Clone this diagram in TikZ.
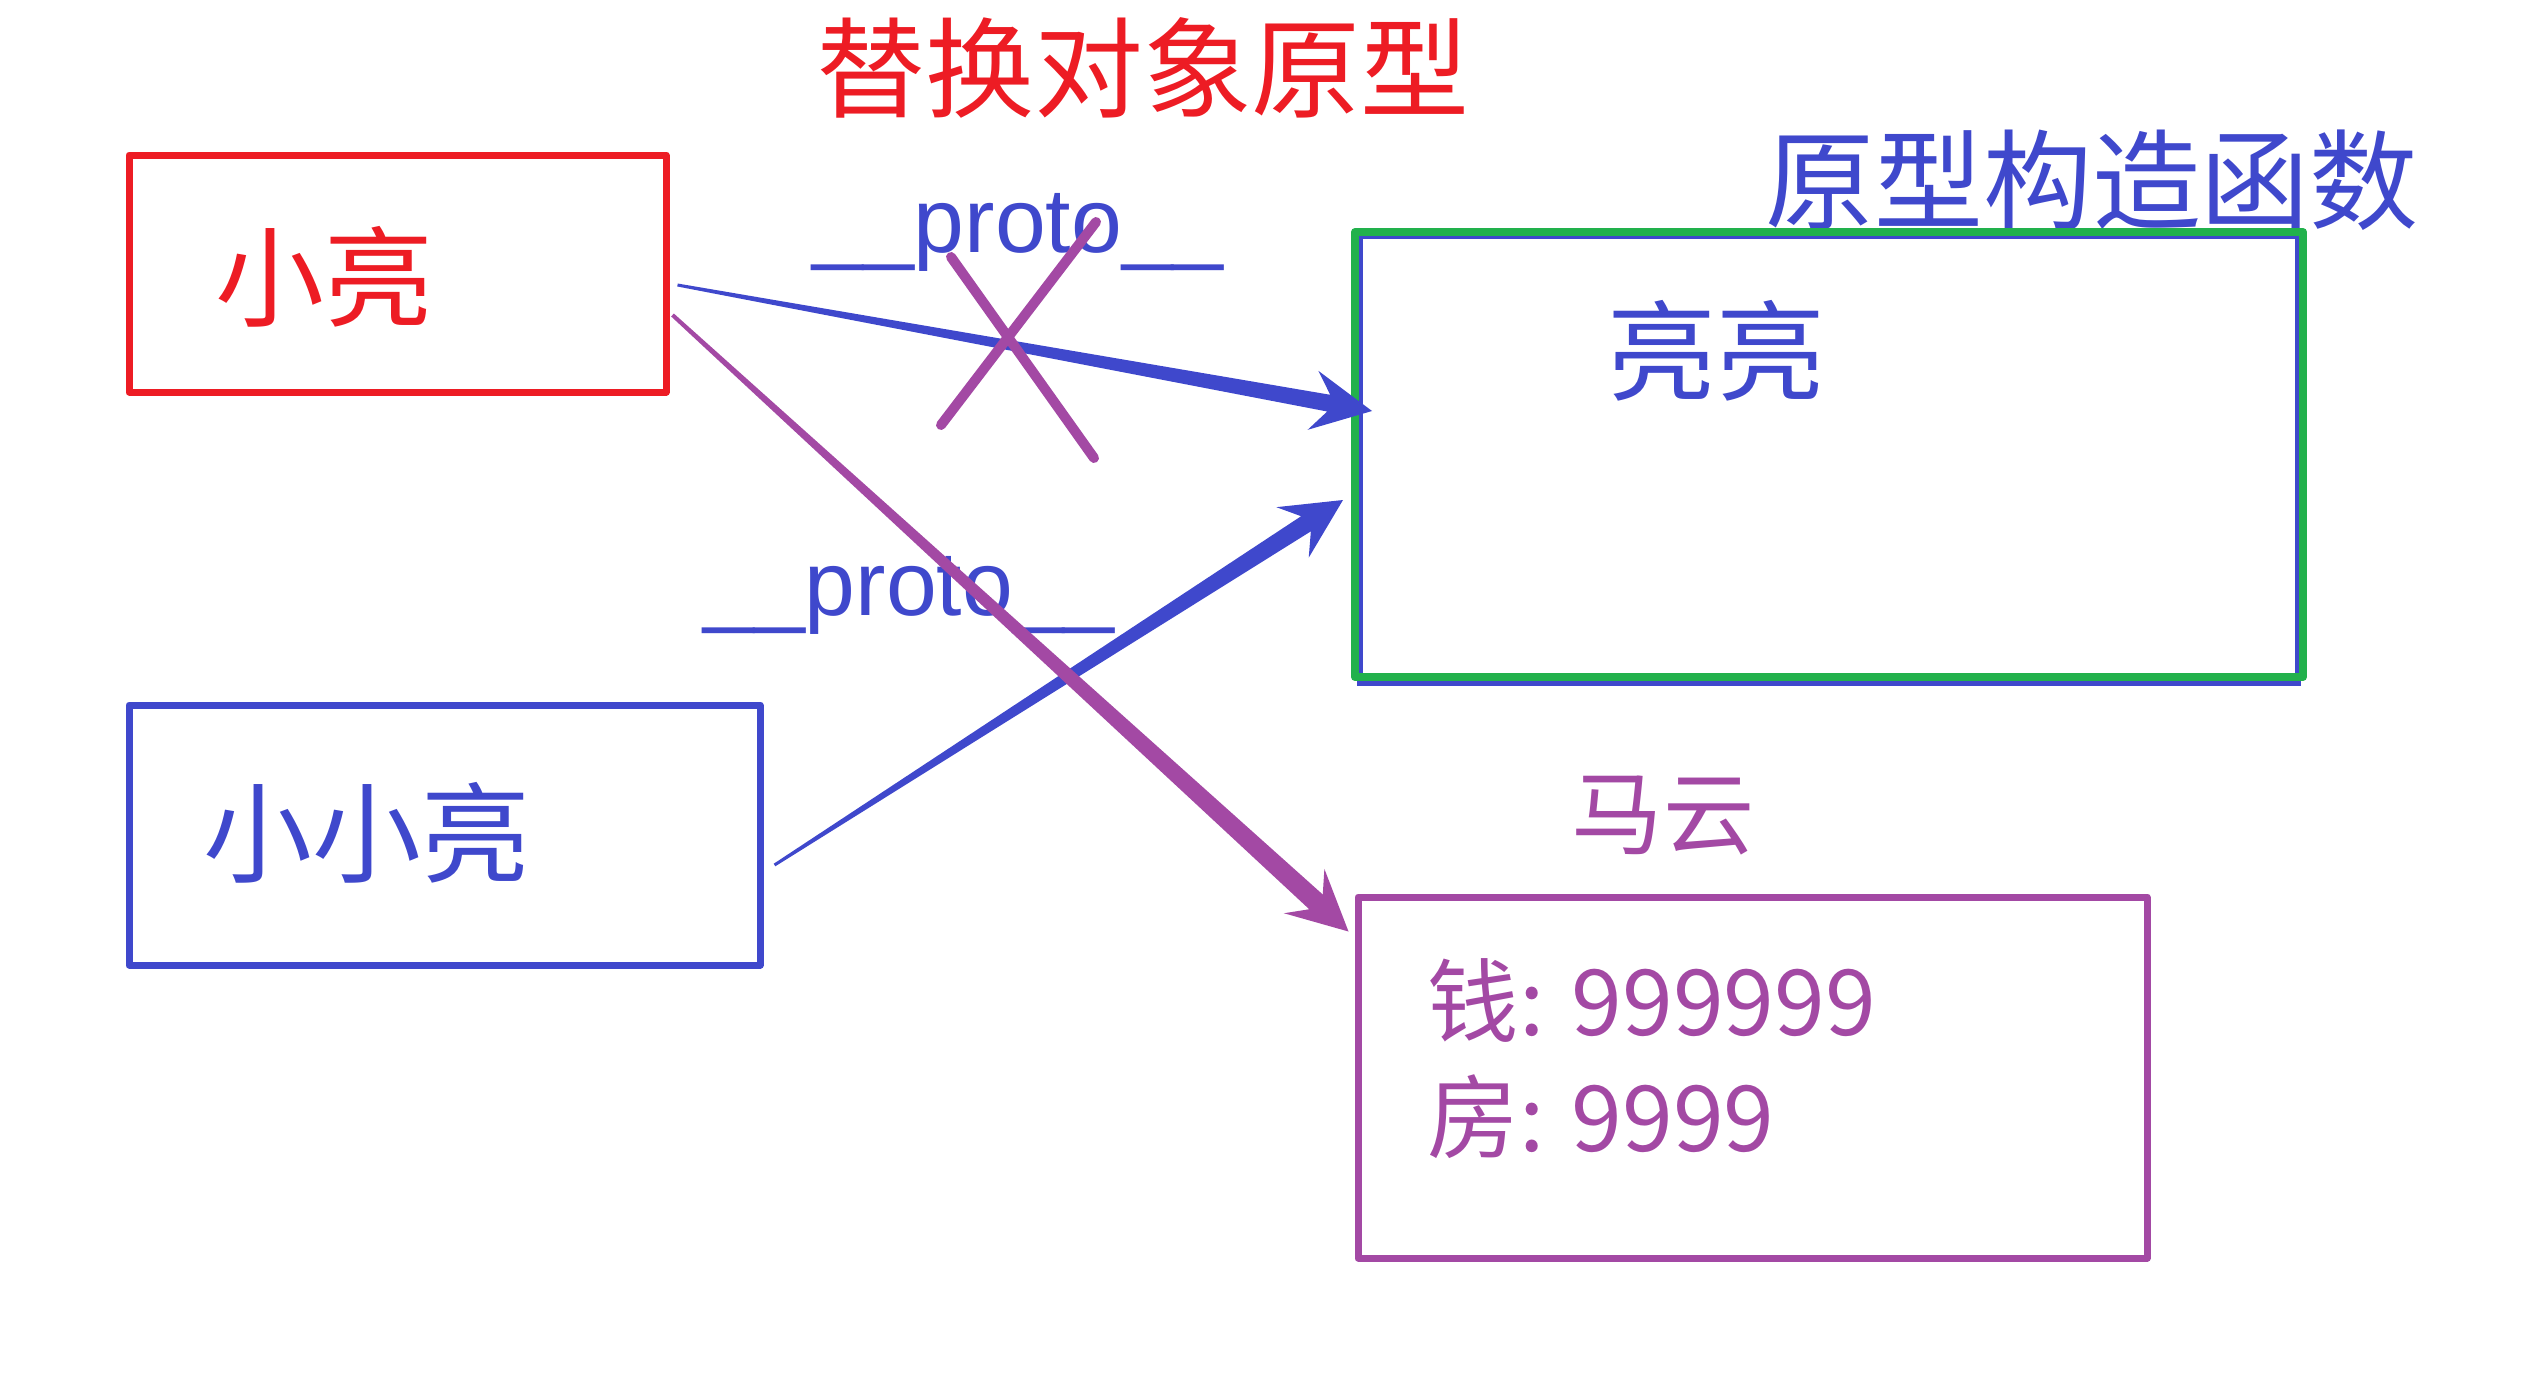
\documentclass[tikz,border=0pt]{standalone}
\usepackage{fontspec}
\newfontfamily\cjk{Noto Sans CJK SC}
\newfontfamily\arial{Liberation Sans}
\usetikzlibrary{calc,backgrounds}

\definecolor{pred}{RGB}{237,28,36}
\definecolor{pblue}{RGB}{63,72,204}
\definecolor{pgreen}{RGB}{34,177,76}
\definecolor{ppurple}{RGB}{163,73,164}

% tapered arrow: colour, from, to, tail half width, neck half width
\newcommand{\taperarrow}[5]{%
	\path ($(#3)!0.44cm!(#2)$) coordinate (neck) ($(#3)!0.6cm!(#2)$) coordinate (barb);
	\fill[#1] ($(#2)!#4!90:(#3)$) -- ($(neck)!#5!90:(#3)$) -- ($(barb)!0.3cm!90:(#3)$) -- (#3)
		-- ($(barb)!0.3cm!-90:(#3)$) -- ($(neck)!#5!-90:(#3)$) -- ($(#2)!#4!-90:(#3)$) -- cycle;
}

\begin{document}
\begin{tikzpicture}[
	box/.style={rectangle, draw, line width=0.07cm, line join=round, inner sep=0pt},
	big/.style={font=\cjk\fontsize{31}{37}\selectfont, inner sep=0pt},
	small/.style={font=\cjk\fontsize{26}{31}\selectfont, inner sep=0pt},
	proto/.style={font=\arial\fontsize{26}{31}\selectfont, text=pblue, inner sep=0pt, anchor=base},
	cross/.style={draw=ppurple, line width=0.1cm, line cap=round}]

	\useasboundingbox (0,0) rectangle (25.29,-13.88);

	%Nodes
	\node[big, text=pred]	(title)	at (11.43,-0.68) {替换对象原型};
	\node[big, text=pblue]	(ctor)	at (20.92,-1.80) {原型构造函数};
	\node[box, draw=pred, minimum width=5.37cm, minimum height=2.37cm]	(xl)	at (3.975,-2.735) {};
	\node[big, text=pred]	(xltext)	at (3.24,-2.77) {小亮};
	\node[box, draw=pblue, minimum width=6.31cm, minimum height=2.60cm]	(xxl)	at (4.445,-8.35) {};
	\node[big, text=pblue]	(xxltext)	at (3.67,-8.33) {小小亮};
	\node[box, draw=pgreen, line width=0.08cm, minimum width=9.48cm, minimum height=4.45cm]	(ll)	at (18.29,-4.545) {};
	\node[big, text=pblue]	(lltext)	at (17.16,-3.51) {亮亮};
	\node[small, text=ppurple]	(mayun)	at (16.63,-8.15) {马云};
	\node[box, draw=ppurple, minimum width=7.89cm, minimum height=3.61cm]	(my)	at (17.525,-10.775) {};
	\node[small, text=ppurple, anchor=west]	(money)	at (14.27,-10.00) {钱: 999999};
	\node[small, text=ppurple, anchor=west]	(house)	at (14.27,-11.17) {房: 9999};
	\node[proto]	(p1)	at (10.18,-2.52) {\_\_proto\_\_};
	\node[proto]	(p2)	at (9.09,-6.15) {\_\_proto\_\_};

	\begin{scope}[on background layer]
		\draw[pblue, line width=0.06cm] ([shift={(0.09,-0.02)}]ll.south west) rectangle ([shift={(-0.09,-0.08)}]ll.north east);
	\end{scope}

	%Lines
	\coordinate (a1s) at ([shift={(0.08,-0.115)}]xl.east);
	\coordinate (a1e) at ([shift={(0.21,0.435)}]ll.west);
	\coordinate (a2s) at ([shift={(0.11,-0.30)}]xxl.east);
	\coordinate (a2e) at ([shift={(-0.08,-0.455)}]ll.west);
	\coordinate (a3s) at ([shift={(0.03,-0.415)}]xl.east);
	\coordinate (a3e) at ([shift={(-0.06,-0.38)}]my.north west);

	\taperarrow{pblue}{a1s}{a1e}{0.015cm}{0.085cm}
	\taperarrow{pblue}{a2s}{a2e}{0.015cm}{0.09cm}
	\taperarrow{ppurple}{a3s}{a3e}{0.02cm}{0.1cm}

	\draw[cross] (9.41,-4.25) -- (10.96,-2.22);
	\draw[cross] (9.51,-2.57) -- (10.94,-4.58);
\end{tikzpicture}
\end{document}
